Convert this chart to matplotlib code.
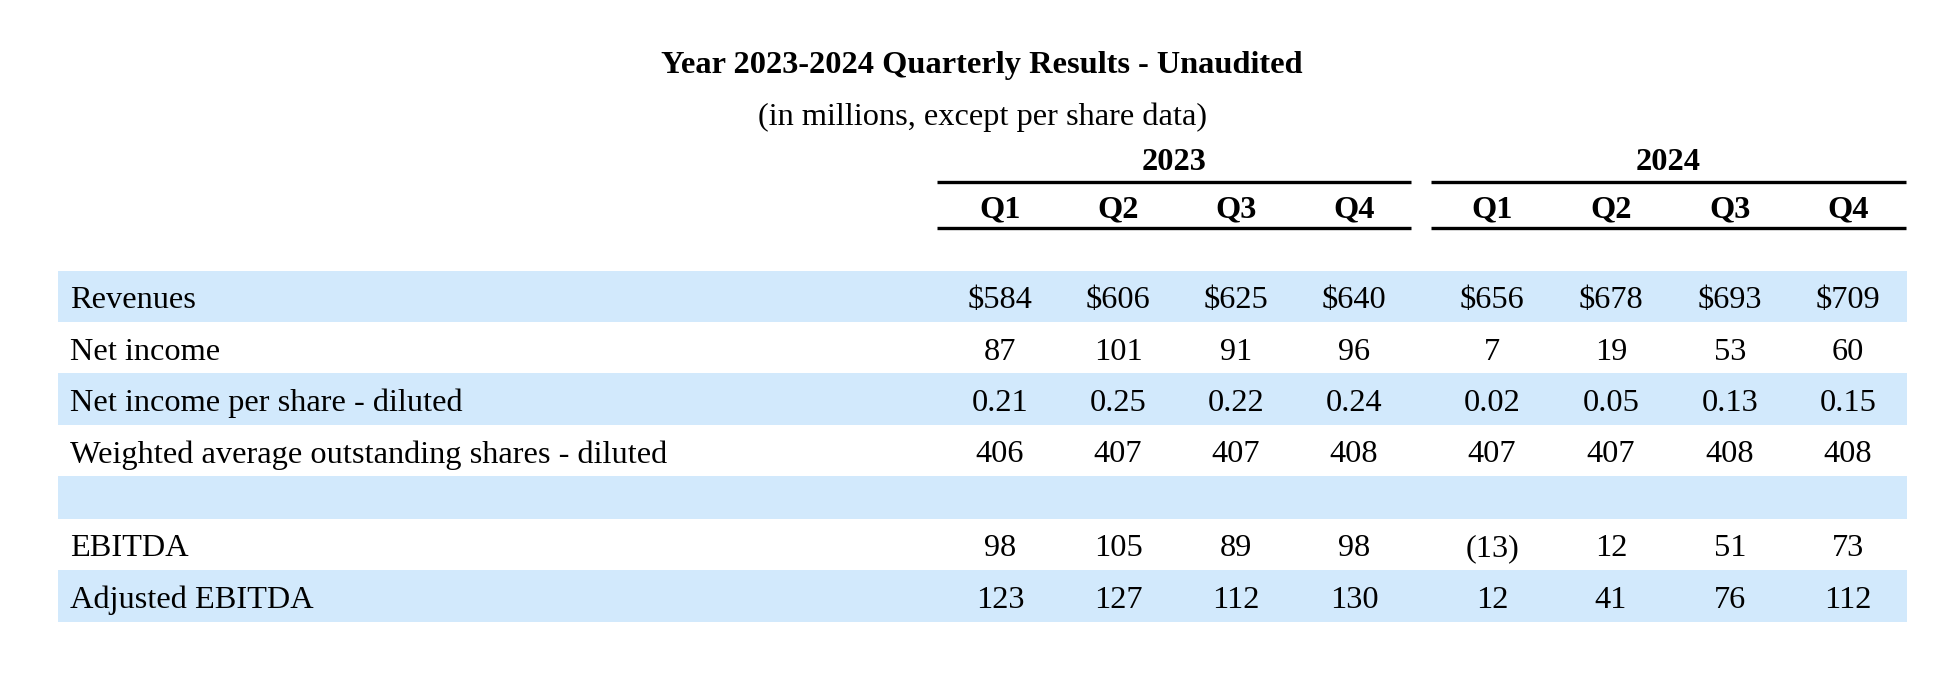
import matplotlib.pyplot as plt
from matplotlib.patches import Rectangle

plt.rcParams['font.family'] = ['Liberation Serif', 'DejaVu Serif']

title = "Year 2023-2024 Quarterly Results - Unaudited"
subtitle = "(in millions, except per share data)"
years = ["2023", "2024"]
quarters = ["Q1", "Q2", "Q3", "Q4"]

row_labels = [
    "Revenues",
    "Net income",
    "Net income per share - diluted",
    "Weighted average outstanding shares - diluted",
    "",
    "EBITDA",
    "Adjusted EBITDA",
]
revenues = ["$584", "$606", "$625", "$640", "$656", "$678", "$693", "$709"]
net_income = ["87", "101", "91", "96", "7", "19", "53", "60"]
eps_diluted = ["0.21", "0.25", "0.22", "0.24", "0.02", "0.05", "0.13", "0.15"]
shares_diluted = ["406", "407", "407", "408", "407", "407", "408", "408"]
spacer = [""] * 8
ebitda = ["98", "105", "89", "98", "(13)", "12", "51", "73"]
adj_ebitda = ["123", "127", "112", "130", "12", "41", "76", "112"]
table = [revenues, net_income, eps_diluted, shares_diluted, spacer, ebitda, adj_ebitda]

# layout (pixels)
W, H = 1944, 682
col_x = [1000, 1118, 1236, 1354, 1492, 1611, 1730, 1848]
row_top = [271, 322, 373, 425, 476, 519, 570]
row_h = [51, 51, 52, 51, 43, 51, 52]
shaded = [True, False, True, False, True, False, True]
band_l, band_r = 58, 1907
label_x = 70
year_spans = [(937, 1411), (1431, 1906)]
blue = '#D2E9FC'
fs = 23.3

fig = plt.figure(figsize=(W / 100, H / 100), dpi=100)
ax = fig.add_axes([0, 0, 1, 1])
ax.set_xlim(0, W)
ax.set_ylim(H, 0)
ax.axis('off')

ax.text(982, 62, title, ha='center', va='center_baseline', fontsize=fs, fontweight='bold')
ax.text(982, 114, subtitle, ha='center', va='center_baseline', fontsize=fs)

for i, yr in enumerate(years):
    x0, x1 = year_spans[i]
    ax.text((x0 + x1) / 2, 159, yr, ha='center', va='center_baseline', fontsize=fs, fontweight='bold')
    ax.plot([x0, x1], [182, 182], color='black', lw=2.4, solid_capstyle='butt')
    ax.plot([x0, x1], [228, 228], color='black', lw=2.4, solid_capstyle='butt')
    for j, q in enumerate(quarters):
        ax.text(col_x[i * 4 + j], 206, q, ha='center', va='center_baseline', fontsize=fs, fontweight='bold')

for r, label in enumerate(row_labels):
    top, h = row_top[r], row_h[r]
    if shaded[r]:
        ax.add_patch(Rectangle((band_l, top), band_r - band_l, h, facecolor=blue, edgecolor='none'))
    yc = top + h / 2 + 1
    ax.text(label_x, yc, label, ha='left', va='center_baseline', fontsize=fs)
    for c, val in enumerate(table[r]):
        ax.text(col_x[c], yc, val, ha='center', va='center_baseline', fontsize=fs)

fig.savefig('out.png', dpi=100, facecolor='white')
